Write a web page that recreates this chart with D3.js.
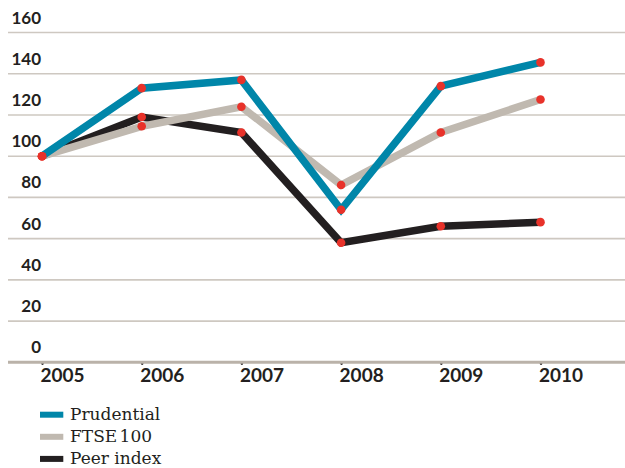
<!DOCTYPE html>
<html>
<head>
<meta charset="utf-8">
<title>Prudential vs FTSE 100</title>
<script src="https://d3js.org/d3.v7.min.js"></script>
<style>
  body { margin: 0; background: #fff; }
  svg { display: block; }
</style>
</head>
<body>
<script>
var years = [2005, 2006, 2007, 2008, 2009, 2010];
var prudential = [100, 133, 137, 74, 134, 145.5];
var ftse = [100, 114.5, 124, 86, 111.5, 127.5];
var peer = [100, 119, 111.5, 58, 66, 68];
var yTicks = [0, 20, 40, 60, 80, 100, 120, 140, 160];

var seriesNames = ["Prudential", "FTSE 100", "Peer index"];
var seriesColors = ["#0086a9", "#c0b9b0", "#231f20"];

var width = 625, height = 468;
var svg = d3.select("body").append("svg").attr("width", width).attr("height", height);

var x = d3.scaleLinear().domain([2005, 2010]).range([42, 540.5]);
var y = d3.scaleLinear().domain([0, 160]).range([362.3, 32.5]);

// gridlines
svg.append("g").selectAll("line")
    .data(yTicks.filter(function(d){ return d > 0 }))
    .enter().append("line")
    .attr("x1", 8).attr("x2", width)
    .attr("y1", function(d){ return y(d) }).attr("y2", function(d){ return y(d) })
    .attr("stroke", "#cec8c1").attr("stroke-width", 1.6);

// y labels (sit above their gridline)
svg.append("g").selectAll("text")
    .data(yTicks)
    .enter().append("text")
    .attr("x", 41)
    .attr("y", function(d){ return y(d) - 9 })
    .attr("text-anchor", "end")
    .attr("font-family", "Lato, sans-serif")
    .attr("font-weight", 700)
    .attr("font-size", 17)
    .attr("fill", "#231f20")
    .text(function(d){ return d });

// x axis, labels start at the tick
var xAxis = d3.axisBottom(x).tickValues(years).tickFormat(d3.format("d")).tickSize(0).tickPadding(0);
var gx = svg.append("g").attr("transform", "translate(0," + y(0) + ")").call(xAxis);
gx.select(".domain").remove();
gx.selectAll("text")
    .attr("dy", null)
    .attr("y", 19.5)
    .attr("x", -2)
    .attr("text-anchor", "start")
    .attr("font-family", "Lato, sans-serif")
    .attr("font-weight", 700)
    .attr("font-size", 19)
    .attr("fill", "#231f20");

svg.append("line")
    .attr("x1", 8).attr("x2", width)
    .attr("y1", y(0)).attr("y2", y(0))
    .attr("stroke", "#bab2a9").attr("stroke-width", 3);

gx.selectAll(".tick").append("circle")
    .attr("cy", 1.3).attr("r", 1.3).attr("fill", "#231f20");

// lines, drawn peer first so the others sit on top
var line = d3.line()
    .x(function(d, i){ return x(years[i]) })
    .y(function(d){ return y(d) });

var allSeries = [prudential, ftse, peer];
var drawOrder = [2, 1, 0];

drawOrder.forEach(function(k){
    svg.append("path")
        .datum(allSeries[k])
        .attr("d", line)
        .attr("fill", "none")
        .attr("stroke", seriesColors[k])
        .attr("stroke-width", 7.5)
        .attr("stroke-linejoin", "miter");
});

drawOrder.forEach(function(k){
    svg.append("g").selectAll("circle")
        .data(allSeries[k])
        .enter().append("circle")
        .attr("cx", function(d, i){ return x(years[i]) })
        .attr("cy", function(d){ return y(d) })
        .attr("r", 4.3)
        .attr("fill", "#e8322a");
});

// legend
var legend = svg.append("g").selectAll("g")
    .data(seriesNames)
    .enter().append("g")
    .attr("transform", function(d, i){ return "translate(40," + (414.7 + i * 22.1) + ")" });

legend.append("rect")
    .attr("x", 0).attr("y", -3).attr("width", 23.3).attr("height", 6)
    .attr("fill", function(d, i){ return seriesColors[i] });

legend.append("text")
    .attr("x", 30).attr("y", 5.5)
    .attr("font-family", "'DejaVu Serif', serif")
    .attr("font-size", 17)
    .attr("word-spacing", function(d){ return d == "FTSE 100" ? -3 : 0 })
    .attr("fill", "#231f20")
    .text(function(d){ return d });
</script>
</body>
</html>
